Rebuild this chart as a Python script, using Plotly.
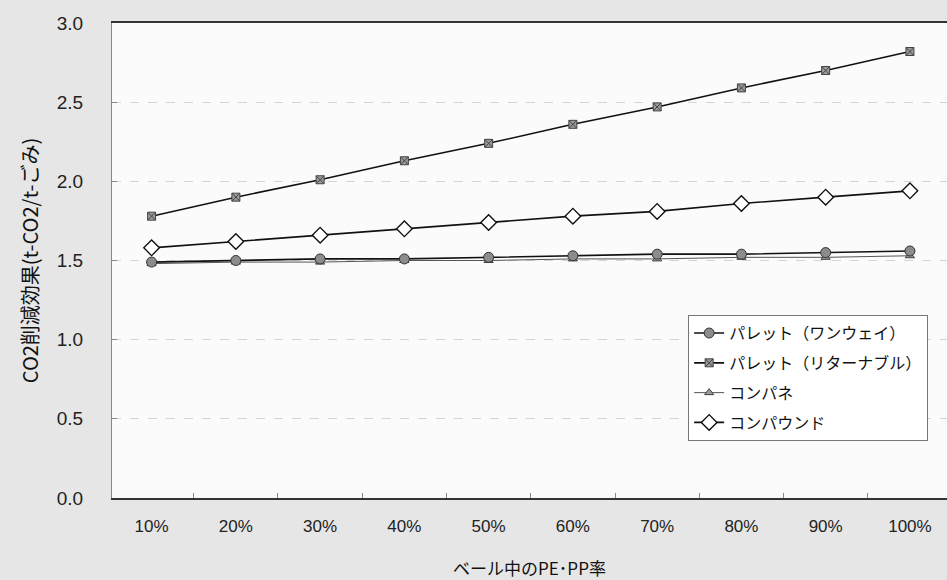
import plotly.graph_objects as go

# PE/PP share in the bale (x categories)
categories = ["10%", "20%", "30%", "40%", "50%", "60%", "70%", "80%", "90%", "100%"]

# CO2 reduction effect (t-CO2 / t-waste) per use
pallet_oneway = [1.49, 1.50, 1.51, 1.51, 1.52, 1.53, 1.54, 1.54, 1.55, 1.56]
pallet_returnable = [1.78, 1.90, 2.01, 2.13, 2.24, 2.36, 2.47, 2.59, 2.70, 2.82]
konpane = [1.48, 1.49, 1.49, 1.50, 1.50, 1.51, 1.51, 1.52, 1.52, 1.53]
compound = [1.58, 1.62, 1.66, 1.70, 1.74, 1.78, 1.81, 1.86, 1.90, 1.94]

series_names = ["パレット（ワンウェイ）", "パレット（リターナブル）", "コンパネ", "コンパウンド"]
y_ticks = [0.0, 0.5, 1.0, 1.5, 2.0, 2.5, 3.0]
y_tick_text = ["0.0", "0.5", "1.0", "1.5", "2.0", "2.5", "3.0"]

FONT = "Liberation Sans, Arial, Noto Sans CJK JP, sans-serif"
JP_FONT = "Noto Sans CJK JP, sans-serif"

fig = go.Figure()

fig.add_trace(go.Scatter(
    x=categories, y=konpane, name=series_names[2], mode="lines+markers",
    line=dict(color="#555555", width=1),
    marker=dict(symbol="triangle-up", size=8, color="#9a9a9a",
                line=dict(color="#444444", width=1)),
    legendrank=3, legendgroup="c",
))
fig.add_trace(go.Scatter(
    x=categories, y=pallet_oneway, name=series_names[0], mode="lines+markers",
    line=dict(color="#111111", width=1.6),
    marker=dict(symbol="circle", size=10, color="#8c8c8c",
                line=dict(color="#333333", width=1)),
    legendrank=1, legendgroup="a",
))
fig.add_trace(go.Scatter(
    x=categories, y=pallet_returnable, name=series_names[1], mode="lines+markers",
    line=dict(color="#111111", width=1.6),
    marker=dict(symbol="square-x", size=8, color="#9a9a9a",
                line=dict(color="#444444", width=1)),
    legendrank=2, legendgroup="b",
))
fig.add_trace(go.Scatter(
    x=categories, y=compound, name=series_names[3], mode="lines+markers",
    line=dict(color="#111111", width=1.6),
    marker=dict(symbol="diamond", size=12, color="white",
                line=dict(color="#111111", width=1.4)),
    legendrank=4, legendgroup="d",
))

fig.update_layout(
    width=947, height=580,
    margin=dict(l=112, r=0, t=23, b=82),
    paper_bgcolor="#e6e6e6",
    plot_bgcolor="#fbfbfb",
    font=dict(family=FONT, size=17, color="#222222"),
    showlegend=True,
    legend=dict(
        x=0.69, y=0.385, xanchor="left", yanchor="top",
        bgcolor="#ffffff", bordercolor="#777777", borderwidth=1,
        font=dict(family=JP_FONT, size=16, color="#111111"),
        tracegroupgap=6, itemwidth=30,
    ),
    xaxis=dict(
        type="category", categoryorder="array", categoryarray=categories,
        range=[-0.47, 9.44],
        showline=True, linecolor="#333333", linewidth=2, mirror=True,
        ticks="inside", ticklen=5, tickcolor="#888888", tickson="boundaries",
        showgrid=False,
        ticklabelstandoff=12,
        tickfont=dict(family=FONT, size=17, color="#222222"),
        title=dict(text="ベール中のPE･PP率", standoff=28,
                   font=dict(family=JP_FONT, size=17, color="#111111")),
    ),
    yaxis=dict(
        range=[0, 3.0], tickvals=y_ticks, ticktext=y_tick_text,
        showline=True, linecolor="#888888", linewidth=1, mirror=True,
        ticks="inside", ticklen=5, tickcolor="#888888",
        showgrid=True, gridcolor="#d4d4d4", griddash="dash", gridwidth=1,
        zeroline=False,
        ticklabelstandoff=24,
        tickfont=dict(family=FONT, size=19, color="#222222"),
        title=dict(text="CO2削減効果(t-CO2/t-ごみ)", standoff=12,
                   font=dict(family=JP_FONT, size=20, color="#111111")),
    ),
)

fig.write_html("out.html")
